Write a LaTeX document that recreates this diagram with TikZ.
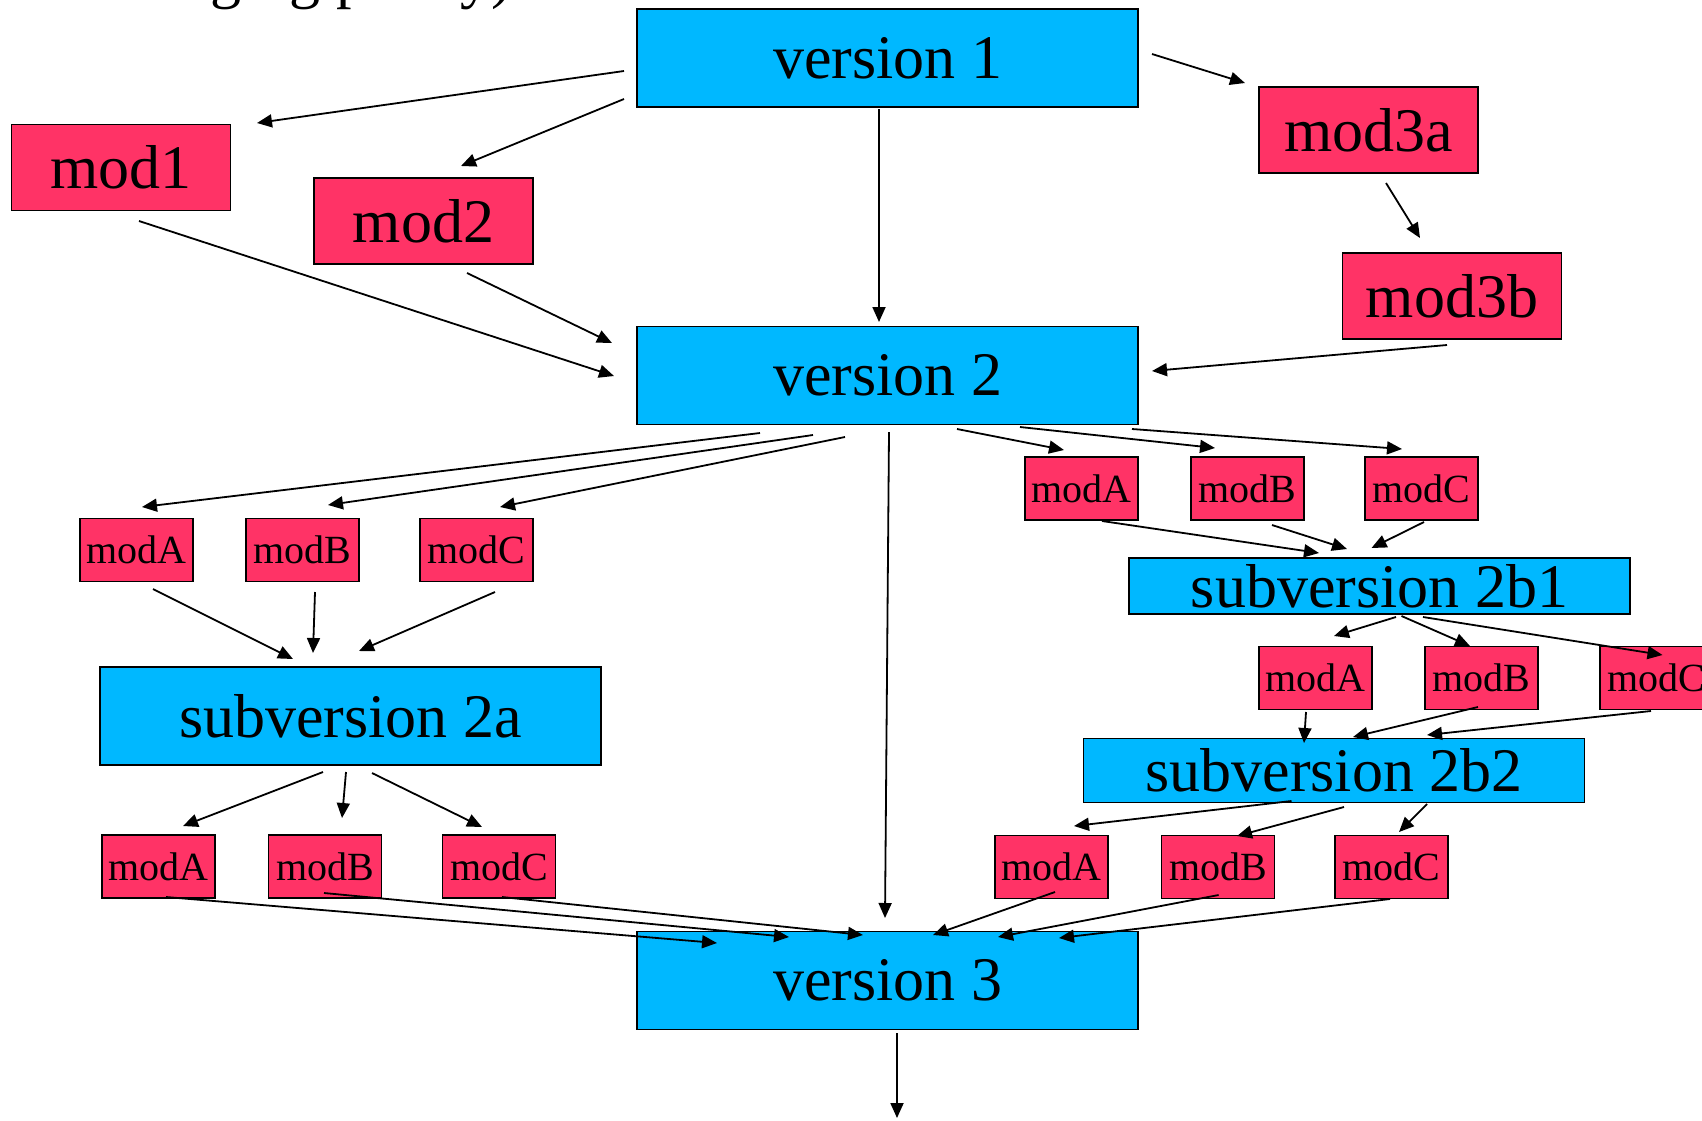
\documentclass[tikz,border=0pt]{standalone}
\usepackage{fontspec}
\setmainfont{Liberation Serif}
\usetikzlibrary{arrows.meta,calc}
\definecolor{vblue}{RGB}{0,184,255}
\definecolor{mred}{RGB}{255,51,102}
\begin{document}
\begin{tikzpicture}[x=0.5pt,y=-0.5pt,
  box/.style={draw=black,line width=0.8pt,inner sep=0pt,anchor=center},
  ver/.style={box,fill=vblue,font=\fontsize{31}{31}\selectfont,minimum width=250.5pt,minimum height=49pt},
  sub/.style={box,fill=vblue,font=\fontsize{31}{31}\selectfont,minimum width=250.5pt},
  big/.style={box,fill=mred,font=\fontsize{31}{31}\selectfont,minimum width=109.5pt,minimum height=43pt},
  sm/.style={box,fill=mred,font=\fontsize{20}{20}\selectfont,minimum width=56.5pt,minimum height=31.5pt},
  arr/.style={-{Triangle[length=7.5pt,width=6.5pt]},line width=0.9pt}]
\clip (0,0) rectangle (1702,1120);
\fill[white] (0,0) rectangle (1702,1120);
% cut-off line of text at the top
\node[anchor=base west,inner sep=0pt,font=\fontsize{31}{31}\selectfont] (ttl) at (115,-3.5) {merging policy)};
% main versions
\node[ver] (v1) at (887.5,58) {version 1};
\node[ver] (v2) at (887.5,375.5) {version 2};
\node[ver] (v3) at (887.5,980.5) {version 3};
% big modules
\node[big] (m1) at (121,167.5) {mod1};
\node[big] (m2) at (423.5,221) {mod2};
\node[big] (m3a) at (1368.5,130) {mod3a};
\node[big] (m3b) at (1452,296) {mod3b};
% subversions
\node[ver] (s2a) at (350.5,716) {subversion 2a};
\node[sub,minimum height=28pt] (s2b1) at (1379.5,586) {subversion 2b1};
\node[sub,minimum height=32pt] (s2b2) at (1334,770.5) {subversion 2b2};
% small modules, left
\node[sm] (la1) at (136.5,550) {modA};
\node[sm] (lb1) at (302.5,550) {modB};
\node[sm] (lc1) at (476.5,550) {modC};
\node[sm] (la2) at (158.5,866.5) {modA};
\node[sm] (lb2) at (325,866.5) {modB};
\node[sm] (lc2) at (499,866.5) {modC};
% small modules, right
\node[sm] (ra1) at (1081.5,488.5) {modA};
\node[sm] (rb1) at (1247.5,488.5) {modB};
\node[sm] (rc1) at (1421.5,488.5) {modC};
\node[sm] (ra2) at (1315.5,678) {modA};
\node[sm] (rb2) at (1481.5,678) {modB};
\node[sm] (rc2) at (1656.5,678) {modC};
\node[sm] (ra3) at (1051.5,867) {modA};
\node[sm] (rb3) at (1218,867) {modB};
\node[sm] (rc3) at (1391.5,867) {modC};
\coordinate (out) at (897,1118);
% connectors
\draw[arr] ($(v1)+(-263.5,13)$) -- ($(m1)+(136,-44.5)$);
\draw[arr] ($(v1)+(-263.5,41)$) -- ($(m2)+(37.5,-55)$);
\draw[arr] ($(v1)+(264.5,-4)$) -- ($(m3a)+(-123.5,-47)$);
\draw[arr] ($(v1)+(-8.5,51)$) -- ($(v2)+(-8.5,-53.5)$);
\draw[arr] ($(m3a)+(17.5,53)$) -- ($(m3b)+(-32,-58)$);
\draw[arr] ($(m3b)+(-5,49)$) -- ($(v2)+(264.5,-4.5)$);
\draw[arr] ($(m1)+(18,53.5)$) -- ($(v2)+(-273.5,0.5)$);
\draw[arr] ($(m2)+(43.5,52)$) -- ($(v2)+(-275.5,-32.5)$);
\draw[arr] ($(v2)+(-127.5,57.5)$) -- ($(la1)+(5.5,-43)$);
\draw[arr] ($(v2)+(-74.5,59.5)$) -- ($(lb1)+(25.5,-45)$);
\draw[arr] ($(v2)+(-42.5,61.5)$) -- ($(lc1)+(23.5,-43)$);
\draw[arr] ($(v2)+(1.5,56.5)$) -- ($(v3)+(-2.5,-62.5)$);
\draw[arr] ($(v2)+(69.5,53.5)$) -- ($(ra1)+(-17.5,-38.5)$);
\draw[arr] ($(v2)+(132.5,51.5)$) -- ($(rb1)+(-32.5,-40.5)$);
\draw[arr] ($(v2)+(244.5,53.5)$) -- ($(rc1)+(-19.5,-39.5)$);
\draw[arr] ($(la1)+(16.5,39)$) -- ($(s2a)+(-57.5,-57)$);
\draw[arr] ($(lb1)+(12.5,42)$) -- ($(s2a)+(-37.5,-63)$);
\draw[arr] ($(lc1)+(18.5,42)$) -- ($(s2a)+(8.5,-65)$);
\draw[arr] ($(s2a)+(-27.5,56)$) -- ($(la2)+(24.5,-40.5)$);
\draw[arr] ($(s2a)+(-4.5,56)$) -- ($(lb2)+(17,-48.5)$);
\draw[arr] ($(s2a)+(21.5,57)$) -- ($(lc2)+(-17,-39.5)$);
\draw[arr] ($(la2)+(7.5,30.5)$) -- ($(v3)+(-170.5,-37.5)$);
\draw[arr] ($(lb2)+(-1,26.5)$) -- ($(v3)+(-98.5,-43.5)$);
\draw[arr] ($(lc2)+(3,30.5)$) -- ($(v3)+(-24.5,-45.5)$);
\draw[arr] ($(ra1)+(20.5,32.5)$) -- ($(s2b1)+(-60.5,-33)$);
\draw[arr] ($(rb1)+(24.5,36.5)$) -- ($(s2b1)+(-32.5,-37)$);
\draw[arr] ($(rc1)+(2.5,33.5)$) -- ($(s2b1)+(-8,-38)$);
\draw[arr] ($(s2b1)+(16.5,31)$) -- ($(ra2)+(18.5,-42)$);
\draw[arr] ($(s2b1)+(22,30)$) -- ($(rb2)+(-11.5,-32)$);
\draw[arr] ($(s2b1)+(43.5,31)$) -- ($(rc2)+(6,-23)$);
\draw[arr] ($(ra2)+(-9.5,34)$) -- ($(s2b2)+(-30,-27.5)$);
\draw[arr] ($(rb2)+(-3.5,29)$) -- ($(s2b2)+(19,-33.5)$);
\draw[arr] ($(rc2)+(-5.5,33)$) -- ($(s2b2)+(93,-35.5)$);
\draw[arr] ($(s2b2)+(-42.5,30.5)$) -- ($(ra3)+(22.5,-41)$);
\draw[arr] ($(s2b2)+(10,36.5)$) -- ($(rb3)+(19,-31)$);
\draw[arr] ($(s2b2)+(93,33.5)$) -- ($(rc3)+(7.5,-35)$);
\draw[arr] ($(ra3)+(3.5,25)$) -- ($(v3)+(45.5,-45.5)$);
\draw[arr] ($(rb3)+(0.6,28)$) -- ($(v3)+(110.5,-43.5)$);
\draw[arr] ($(rc3)+(-1.5,32)$) -- ($(v3)+(171.5,-42.5)$);
\draw[arr] ($(v3)+(9.5,52.5)$) -- (out);
\end{tikzpicture}
\end{document}
